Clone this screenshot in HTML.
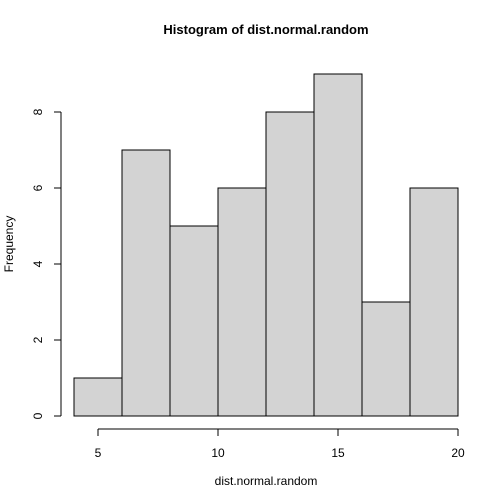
<!DOCTYPE html>
<html><head><meta charset="utf-8"><style>body{margin:0;background:#fff}svg{display:block;font-family:"Liberation Sans",Arial,sans-serif}</style></head>
<body>
<svg width="504" height="504">
<text x="266" y="34" text-anchor="middle" font-weight="bold" font-size="13">Histogram of dist.normal.random</text>
<text x="266" y="485" text-anchor="middle" font-size="12">dist.normal.random</text>
<text transform="translate(13,244) rotate(-90)" text-anchor="middle" font-size="12">Frequency</text>
<g id="bars"></g>
<g id="xaxis" stroke="#000"></g>
<g id="yaxis" stroke="#000"></g>
</svg>
<script>
const breaks=[4,6,8,10,12,14,16,18,20];
const counts=[1,7,5,6,8,9,3,6];
const xTicks=[5,10,15,20];
const yTicks=[0,2,4,6,8];
const sx=v=>74+(v-4)*24;
const sy=v=>416-v*38;
const NS="http://www.w3.org/2000/svg";
const bars=document.getElementById('bars');
counts.forEach((c,i)=>{
 const r=document.createElementNS(NS,'rect');
 r.setAttribute('x',sx(breaks[i]));r.setAttribute('y',sy(c));
 r.setAttribute('width',sx(breaks[i+1])-sx(breaks[i]));r.setAttribute('height',sy(0)-sy(c));
 r.setAttribute('fill','#d3d3d3');r.setAttribute('stroke','#000');
 
 
 bars.appendChild(r);
});
const xa=document.getElementById('xaxis');
function line(g,x1,y1,x2,y2){const l=document.createElementNS(NS,'line');l.setAttribute('x1',x1);l.setAttribute('y1',y1);l.setAttribute('x2',x2);l.setAttribute('y2',y2);g.appendChild(l);}
line(xa,sx(xTicks[0]),429,sx(xTicks[xTicks.length-1]),429);
xTicks.forEach(t=>{line(xa,sx(t),429,sx(t),436);
 const tx=document.createElementNS(NS,'text');tx.setAttribute('x',sx(t));tx.setAttribute('y',457);tx.setAttribute('text-anchor','middle');tx.setAttribute('font-size','12');tx.setAttribute('stroke','none');tx.textContent=t;
 
 
 xa.appendChild(tx);});
const ya=document.getElementById('yaxis');
line(ya,61,sy(yTicks[0]),61,sy(yTicks[yTicks.length-1]));
yTicks.forEach(t=>{line(ya,54,sy(t),61,sy(t));
 const tx=document.createElementNS(NS,'text');tx.setAttribute('transform','translate(42,'+sy(t)+') rotate(-90)');tx.setAttribute('text-anchor','middle');tx.setAttribute('font-size','12');tx.setAttribute('stroke','none');tx.textContent=t;
 
 
 ya.appendChild(tx);});
</script>
</body></html>
